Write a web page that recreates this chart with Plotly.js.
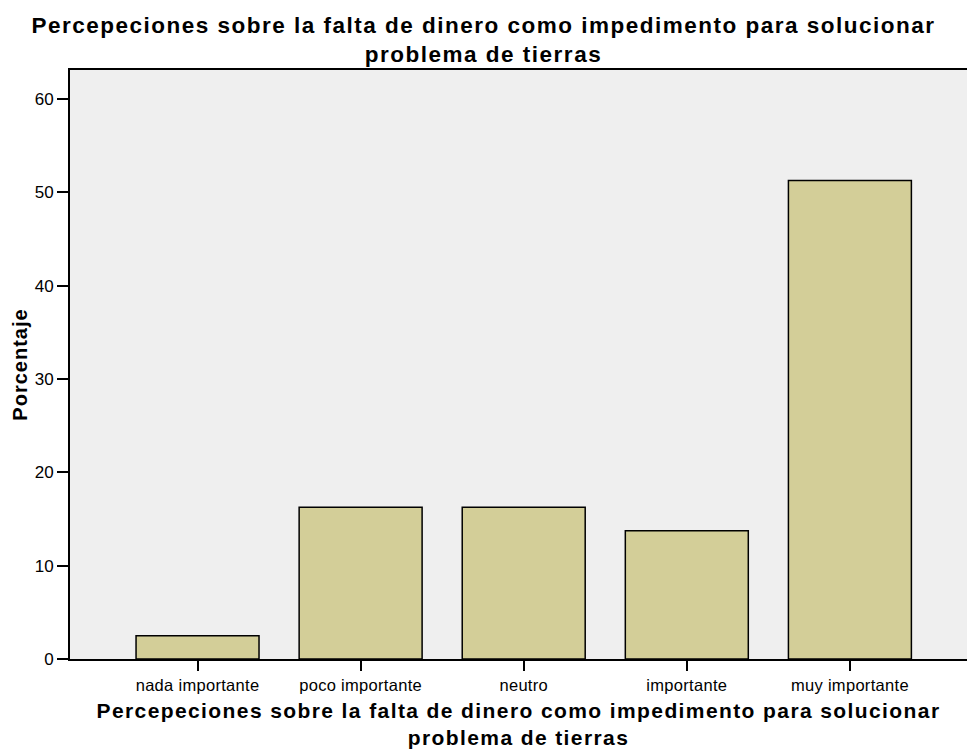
<!DOCTYPE html>
<html>
<head>
<meta charset="utf-8">
<script src="https://cdn.plot.ly/plotly-3.0.1.min.js"></script>
<style>
  html, body { margin: 0; padding: 0; background: #fff; }
  #graph { width: 967px; height: 749px; }
  /* the reference's bold titles are set wide */
  #graph .gtitle { letter-spacing: 1.5px; }
  #graph .xtitle { letter-spacing: 1.4px; }
  #graph .ytitle { letter-spacing: 1px; }
  #graph .xtick text { letter-spacing: 0.3px; }
</style>
</head>
<body>
<div id="graph"></div>
<script>
// Categories and percentages
var categories = ['nada importante', 'poco importante', 'neutro', 'importante', 'muy importante'];
var porcentaje = [2.5, 16.25, 16.25, 13.75, 51.25];
var yTicks = [0, 10, 20, 30, 40, 50, 60];

var chartTitle = 'Percepeciones sobre la falta de dinero como impedimento para solucionar<br>problema de tierras';

var trace = {
  type: 'bar',
  x: categories,
  y: porcentaje,
  marker: { color: '#d3ce98', line: { color: '#000000', width: 1.5 } },
  hoverinfo: 'x+y'
};

var layout = {
  width: 967,
  height: 749,
  margin: { l: 70, r: 0, t: 70, b: 90 },
  paper_bgcolor: '#ffffff',
  plot_bgcolor: '#efefef',
  font: { family: 'Liberation Sans, Arial, sans-serif', color: '#000000' },
  title: {
    text: '<b>' + chartTitle + '</b>',
    font: { size: 22.5, family: 'Liberation Sans, Arial, sans-serif' },
    x: 0.5,
    xref: 'container',
    xanchor: 'center',
    y: 0.956,
    yref: 'container',
    yanchor: 'middle'
  },
  bargap: 0.246,
  xaxis: {
    type: 'category',
    range: [-0.782, 4.718],
    showline: true,
    linecolor: '#000000',
    linewidth: 2,
    mirror: true,
    ticks: 'outside',
    ticklen: 10,
    tickwidth: 2,
    tickcolor: '#000000',
    tickfont: { size: 16.5 },
    showgrid: false,
    zeroline: false,
    title: {
      text: '<b>' + chartTitle + '</b>',
      font: { size: 21 },
      standoff: 24
    }
  },
  yaxis: {
    range: [0, 63.1],
    tickvals: yTicks,
    showline: true,
    linecolor: '#000000',
    linewidth: 2,
    ticks: 'outside',
    ticklen: 11,
    tickwidth: 2,
    tickcolor: '#000000',
    tickfont: { size: 17 },
    showgrid: false,
    zeroline: false,
    title: {
      text: '<b>Porcentaje</b>',
      font: { size: 20 },
      standoff: 2
    }
  },
  showlegend: false
};

Plotly.newPlot('graph', [trace], layout, { displayModeBar: false });
</script>
</body>
</html>
